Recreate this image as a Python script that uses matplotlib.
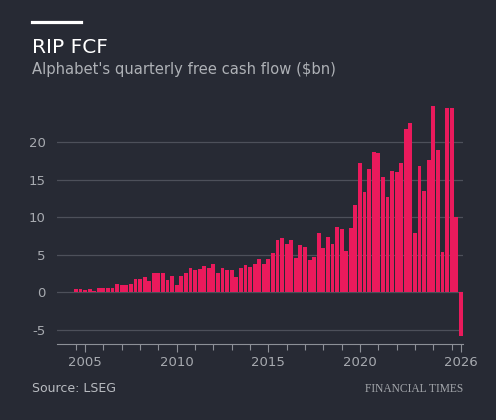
import numpy as np
import pandas as pd
import matplotlib
matplotlib.use('Agg')
import matplotlib.pyplot as plt
from matplotlib.lines import Line2D

# quarterly free cash flow, $bn, first quarter 2004Q3
first_quarter = '2004Q3'
fcf = [0.4, 0.4, 0.3, 0.4, 0.2, 0.5, 0.5, 0.6, 0.6, 1.1,
       1.0, 0.9, 1.1, 1.7, 1.8, 2.0, 1.5, 2.6, 2.5, 2.5,
       1.6, 2.1, 1.0, 2.2, 2.6, 3.2, 3.0, 3.1, 3.5, 3.2,
       3.7, 2.5, 3.2, 2.9, 3.0, 2.0, 3.2, 3.6, 3.3, 3.8,
       4.4, 3.8, 4.4, 5.2, 6.9, 7.2, 6.4, 7.0, 4.6, 6.3,
       6.0, 4.3, 4.7, 7.9, 5.9, 7.3, 6.4, 8.7, 8.4, 5.5,
       8.6, 11.6, 17.2, 13.3, 16.4, 18.7, 18.5, 15.3, 12.7, 16.1,
       16.0, 17.2, 21.8, 22.6, 7.9, 16.8, 13.5, 17.6, 24.8, 18.9,
       5.3, 24.5, 24.5, 10.0, -5.8]
year_labels = [2005, 2010, 2015, 2020]
end_label = '2026'
y_ticks = [-5, 0, 5, 10, 15, 20]

bg = '#272a34'
bar_col = '#ea1a5c'
grid_col = '#4d505a'
tick_col = '#a7aab0'

periods = pd.period_range(first_quarter, periods=len(fcf), freq='Q')
x = np.array([p.year + (p.quarter - 1) / 4 for p in periods])

plt.rcParams['font.family'] = ['DejaVu Sans']

fig = plt.figure(figsize=(4.96, 4.2), dpi=100, facecolor=bg)
ax = fig.add_axes([57/496, 1 - 344/420, (463-57)/496, (344-100.75)/420])
ax.set_facecolor(bg)

ax.bar(x, fcf, width=0.21, color=bar_col, zorder=2)

ax.set_xlim(2003.47, 2025.62)
ax.set_ylim(-6.93, 25.5)

ax.set_yticks(y_ticks)
ax.set_yticklabels([str(v) for v in y_ticks])
ax.grid(axis='y', color=grid_col, linewidth=0.9, zorder=0)
ax.tick_params(axis='y', length=0, pad=8, labelsize=9.5, labelcolor=tick_col)

major_pos = list(year_labels) + [x[-1]]
ax.set_xticks(major_pos)
ax.set_xticklabels([str(v) for v in year_labels] + [end_label])
minor_pos = [x[0]] + list(range(2005, 2026))
ax.set_xticks(minor_pos, minor=True)
ax.tick_params(axis='x', which='major', length=6, width=0.8, color='#8d9097',
               labelsize=9.5, labelcolor=tick_col, pad=3)
ax.tick_params(axis='x', which='minor', length=4, width=0.8, color='#8d9097')

for s in ['top', 'right', 'left']:
    ax.spines[s].set_visible(False)
ax.spines['bottom'].set_color('#8d9097')
ax.spines['bottom'].set_linewidth(0.8)

# header
fig.add_artist(Line2D([32/496, 81/496], [1 - 22/420, 1 - 22/420],
                      color='white', linewidth=2.3))
fig.text(32/496, 1 - 53/420, 'RIP FCF', color='white', fontsize=14.5,
         va='baseline', ha='left')
fig.text(32/496, 1 - 74/420, "Alphabet's quarterly free cash flow ($bn)",
         color='#aeb1b6', fontsize=10.6, va='baseline', ha='left')

# footer
fig.text(32/496, 1 - 392/420, 'Source: LSEG', color='#b9bcc1', fontsize=9,
         va='baseline', ha='left')
fig.text(463/496, 1 - 392/420, 'FINANCIAL TIMES', color='#a3a6ab', fontsize=8.3,
         family='Liberation Serif', va='baseline', ha='right')

plt.savefig('out.png', dpi=100, facecolor=bg)
